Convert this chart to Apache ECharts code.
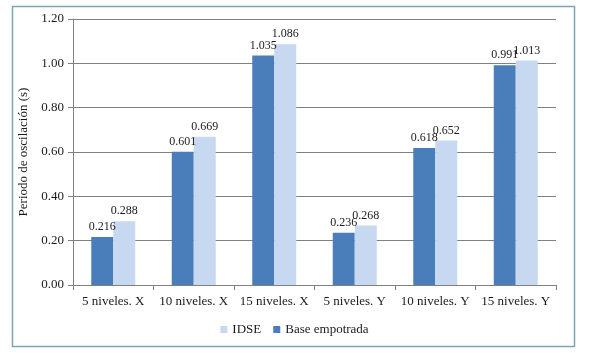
<!DOCTYPE html>
<html>
<head>
<meta charset="utf-8">
<script src="https://cdn.jsdelivr.net/npm/echarts@6/dist/echarts.min.js"></script>
<style>
  html, body { margin: 0; padding: 0; background: #fff; }
  #container { width: 589px; height: 356px; }
</style>
</head>
<body>
<div id="container"></div>
<script>
// chart data
const categories = ['5 niveles. X', '10 niveles. X', '15 niveles. X', '5 niveles. Y', '10 niveles. Y', '15 niveles. Y'];
const baseEmpotrada = [0.216, 0.601, 1.035, 0.236, 0.618, 0.991];
const idse = [0.288, 0.669, 1.086, 0.268, 0.652, 1.013];
const yTicks = { min: 0, max: 1.2, interval: 0.2 };

const serif = '"Liberation Serif", "DejaVu Serif", serif';
const txt = '#1a1a1a';

let dom = document.getElementById('container');
let myChart = echarts.init(dom);

let labelStyle = {
    show: true,
    position: 'top',
    distance: 4,
    fontFamily: serif,
    fontSize: 12,
    color: txt,
    formatter: p => p.value.toFixed(3)
};

let option = {
    animation: false,
    graphic: [{
        type: 'rect',
        shape: { x: 12.5, y: 6.5, width: 562, height: 340 },
        style: { fill: 'none', stroke: '#7fa6b0', lineWidth: 1.5 },
        silent: true
    }],
    grid: { left: 73, right: 33, top: 19, bottom: 71 },
    legend: {
        bottom: 15,
        left: 'center',
        data: ['IDSE', 'Base empotrada'],
        icon: 'rect',
        itemWidth: 7,
        itemHeight: 7,
        itemGap: 12,
        textStyle: { fontFamily: serif, fontSize: 13, color: txt }
    },
    xAxis: {
        type: 'category',
        data: categories,
        axisLine: { lineStyle: { color: '#808080' } },
        axisTick: { show: true, length: 5, lineStyle: { color: '#808080' } },
        axisLabel: { fontFamily: serif, fontSize: 13, color: txt, margin: 10, interval: 0 }
    },
    yAxis: {
        type: 'value',
        min: yTicks.min,
        max: yTicks.max,
        interval: yTicks.interval,
        name: 'Periodo de oscilación (s)',
        nameLocation: 'middle',
        nameGap: 42,
        nameTextStyle: { fontFamily: serif, fontSize: 13, color: txt },
        axisLine: { show: true, lineStyle: { color: '#808080' } },
        axisTick: { show: true, length: 5, lineStyle: { color: '#808080' } },
        axisLabel: { fontFamily: serif, fontSize: 13, color: txt, margin: 9, formatter: v => v.toFixed(2) },
        splitLine: { lineStyle: { color: '#808080', width: 1 } }
    },
    series: [
        {
            name: 'Base empotrada',
            type: 'bar',
            data: baseEmpotrada,
            barWidth: 22,
            barGap: '0%',
            itemStyle: { color: '#4a7ebb' },
            label: labelStyle
        },
        {
            name: 'IDSE',
            type: 'bar',
            data: idse,
            barWidth: 22,
            barGap: '0%',
            itemStyle: { color: '#c6d9f1' },
            label: labelStyle
        }
    ]
};
myChart.setOption(option);
</script>
</body>
</html>
